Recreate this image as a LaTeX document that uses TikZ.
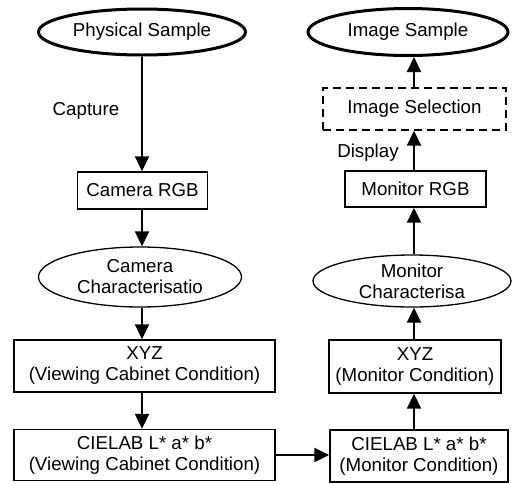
\documentclass[tikz,border=0pt]{standalone}
\usepackage{fontspec}
\setmainfont{Liberation Sans}
\usetikzlibrary{shapes.geometric,arrows.meta}
\begin{document}
\begin{tikzpicture}[x=1pt,y=-1pt,
  every node/.style={font=\fontsize{18.7}{21}\selectfont, align=center, inner sep=0pt},
  boxnode/.style={draw, rectangle, line width=1.4pt},
  thickell/.style={draw, ellipse, line width=3pt},
  thinell/.style={draw, ellipse, line width=1.3pt},
  dashbox/.style={draw, rectangle, line width=1.4pt, dash pattern=on 8pt off 5pt},
  arr/.style={line width=2pt, -{Triangle[length=15pt 0 0,width=14pt 0 0]}},
  lbl/.style={font=\fontsize{18.7}{21}\selectfont}]
\useasboundingbox (0,0) rectangle (512,483);
% left column
\node[thickell, minimum width=207pt, minimum height=46pt] (ps) at (142,32) {Physical Sample};
\node[boxnode, minimum width=130pt, minimum height=37pt] (crgb) at (142.5,190.5) {Camera RGB};
\node[thinell, minimum width=203pt, minimum height=60pt] (cc) at (140,277) {Camera\\Characterisatio};
\node[boxnode, minimum width=261pt, minimum height=52pt] (xyzl) at (144.5,366) {XYZ\\(Viewing Cabinet Condition)};
\node[boxnode, minimum width=261pt, minimum height=51pt] (labl) at (144.5,455) {CIELAB L* a* b*\\(Viewing Cabinet Condition)};
% right column
\node[thickell, minimum width=200pt, minimum height=47pt] (ims) at (408,32) {Image Sample};
\node[dashbox, minimum width=183pt, minimum height=42pt] (isel) at (414.5,109) {Image Selection};
\node[boxnode, minimum width=141pt, minimum height=36pt] (mrgb) at (415.5,189) {Monitor RGB};
\node[thinell, minimum width=198pt, minimum height=52pt] (mc) at (412,281) {Monitor\\Characterisa};
\node[boxnode, minimum width=172pt, minimum height=53pt] (xyzr) at (415,366.5) {XYZ\\(Monitor Condition)};
\node[boxnode, minimum width=178pt, minimum height=52pt] (labr) at (419,456) {CIELAB L* a* b*\\(Monitor Condition)};
% labels
\node[lbl] (cap) at (86,111) {Capture};
\node[lbl] (disp) at (368,153) {Display};
% connectors
\draw[arr] (ps.south) -- (ps.south |- crgb.north);
\draw[arr] (crgb.south -| ps.south) -- (ps.south |- cc.north);
\draw[arr] (cc.south -| ps.south) -- (ps.south |- xyzl.north);
\draw[arr] (xyzl.south -| ps.south) -- (ps.south |- labl.north);
\draw[arr] (labl.east) -- (labr.west |- labl.east);
\coordinate (rx) at (414,0);
\draw[arr] (labr.north -| rx) -- (rx |- xyzr.south);
\draw[arr] (xyzr.north -| rx) -- (rx |- mc.south);
\draw[arr] (mc.north -| rx) -- (rx |- mrgb.south);
\draw[arr] (mrgb.north -| rx) -- (rx |- isel.south);
\draw[arr] (isel.north -| rx) -- (rx |- ims.south);
\end{tikzpicture}
\end{document}
